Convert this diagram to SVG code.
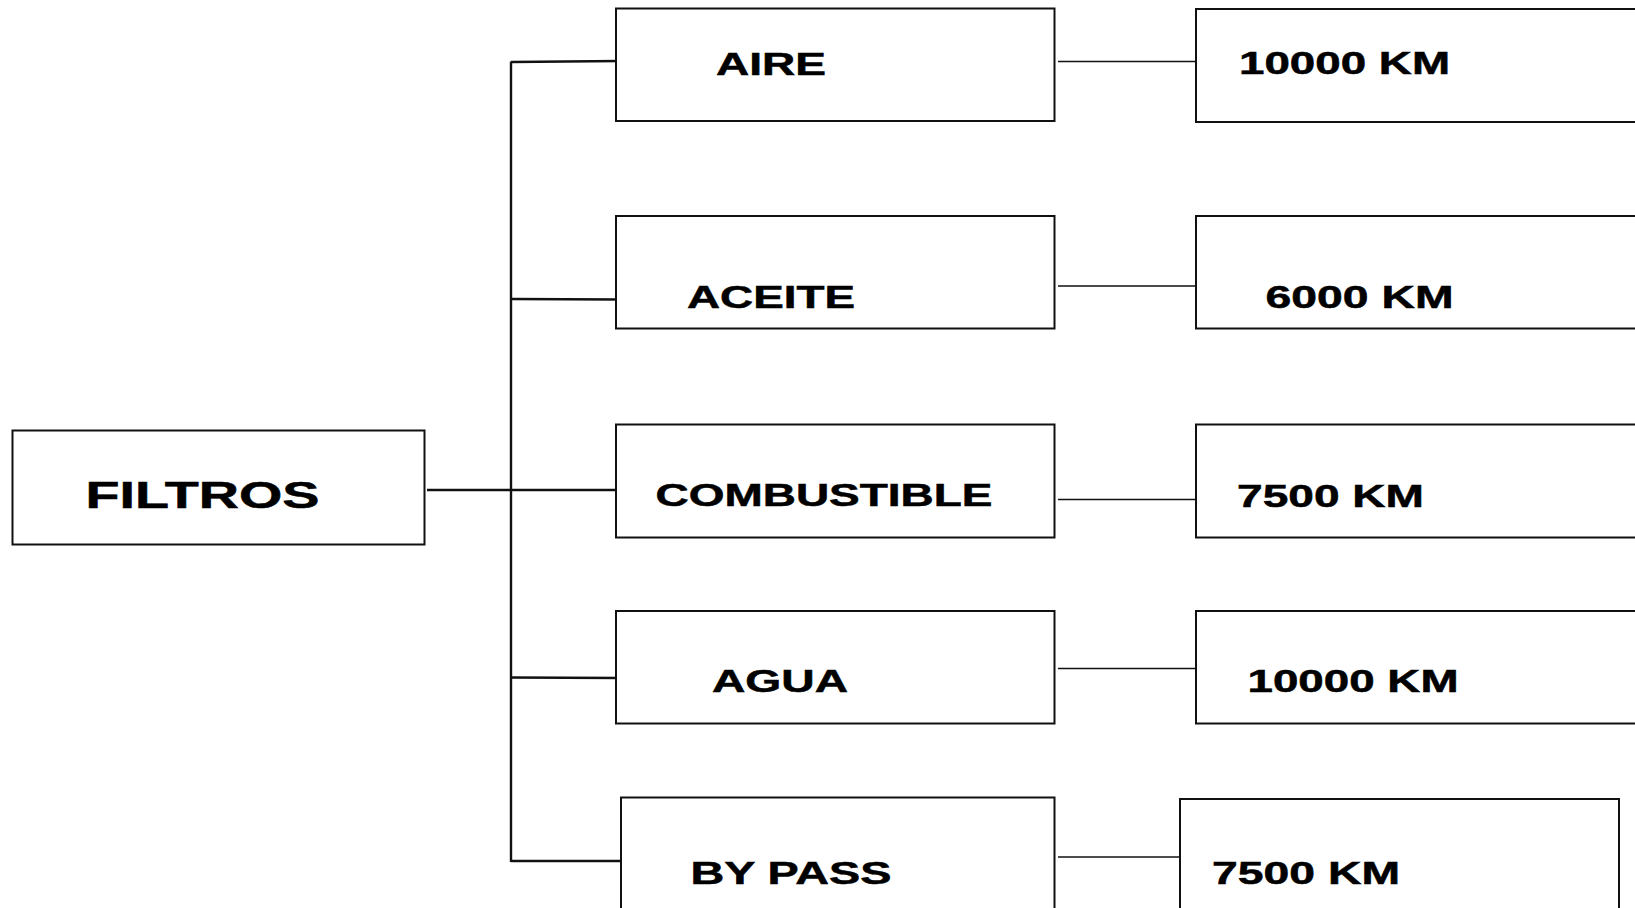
<svg xmlns="http://www.w3.org/2000/svg" width="1635" height="908" viewBox="0 0 1635 908">
<style>
.box{fill:#fff;stroke:#111;stroke-width:2}
.t{font-family:"Liberation Sans",Arial,sans-serif;font-weight:bold;fill:#000;stroke:#000;stroke-width:0.5;font-size:31px}
.big{font-size:36px}
.c{stroke:#111;fill:none}
.cl{stroke-width:2.4}
.cr{stroke-width:1.6}
</style>
<rect width="1635" height="908" fill="#fff"/>
<g id="connectors">
<line class="c cl" x1="511" y1="61.5" x2="511" y2="862"/>
<line class="c cl" x1="427" y1="490" x2="620" y2="490"/>
<line class="c cl" x1="511" y1="62" x2="620" y2="61"/>
<line class="c cl" x1="511" y1="299" x2="620" y2="299.5"/>
<line class="c cl" x1="511" y1="677.5" x2="620" y2="678"/>
<line class="c cl" x1="511" y1="861" x2="621" y2="861"/>
<line class="c cr" x1="1058" y1="61.5" x2="1196" y2="61.5"/>
<line class="c cr" x1="1058" y1="286" x2="1196" y2="286"/>
<line class="c cr" x1="1058" y1="499.5" x2="1196" y2="499.5"/>
<line class="c cr" x1="1058" y1="668.5" x2="1196" y2="668.5"/>
<line class="c cr" x1="1058" y1="857" x2="1180" y2="857"/>
</g>
<g id="filtros">
<rect class="box" x="12.5" y="430.5" width="412" height="114"/>
<text class="t big" x="85.5" y="507.7" textLength="234" lengthAdjust="spacingAndGlyphs">FILTROS</text>
</g>
<g id="aire">
<rect class="box" x="616" y="8.5" width="438.5" height="112.5"/>
<text class="t" x="716" y="75" textLength="110" lengthAdjust="spacingAndGlyphs">AIRE</text>
</g>
<g id="aceite">
<rect class="box" x="616" y="216" width="438.5" height="112.5"/>
<text class="t" x="687" y="308" textLength="168" lengthAdjust="spacingAndGlyphs">ACEITE</text>
</g>
<g id="combustible">
<rect class="box" x="616" y="424.5" width="438.5" height="113"/>
<text class="t" x="655.5" y="505.7" textLength="337" lengthAdjust="spacingAndGlyphs">COMBUSTIBLE</text>
</g>
<g id="agua">
<rect class="box" x="616" y="611" width="438.5" height="112.5"/>
<text class="t" x="712" y="691.7" textLength="136" lengthAdjust="spacingAndGlyphs">AGUA</text>
</g>
<g id="bypass">
<rect class="box" x="621" y="797.5" width="433.5" height="130"/>
<text class="t" x="690.5" y="883.7" textLength="201" lengthAdjust="spacingAndGlyphs">BY PASS</text>
</g>
<g id="km-aire">
<rect class="box" x="1196" y="9" width="440" height="113"/>
<text class="t" x="1239" y="74.3" textLength="211" lengthAdjust="spacingAndGlyphs">10000 KM</text>
</g>
<g id="km-aceite">
<rect class="box" x="1196" y="216" width="440" height="112.5"/>
<text class="t" x="1265.5" y="307.7" textLength="188" lengthAdjust="spacingAndGlyphs">6000 KM</text>
</g>
<g id="km-combustible">
<rect class="box" x="1196" y="424.5" width="440" height="113"/>
<text class="t" x="1237" y="506.7" textLength="187" lengthAdjust="spacingAndGlyphs">7500 KM</text>
</g>
<g id="km-agua">
<rect class="box" x="1196" y="611" width="440" height="112.5"/>
<text class="t" x="1247.5" y="691.7" textLength="211" lengthAdjust="spacingAndGlyphs">10000 KM</text>
</g>
<g id="km-bypass">
<rect class="box" x="1180" y="799" width="439" height="130"/>
<text class="t" x="1212" y="884" textLength="188" lengthAdjust="spacingAndGlyphs">7500 KM</text>
</g>
</svg>
